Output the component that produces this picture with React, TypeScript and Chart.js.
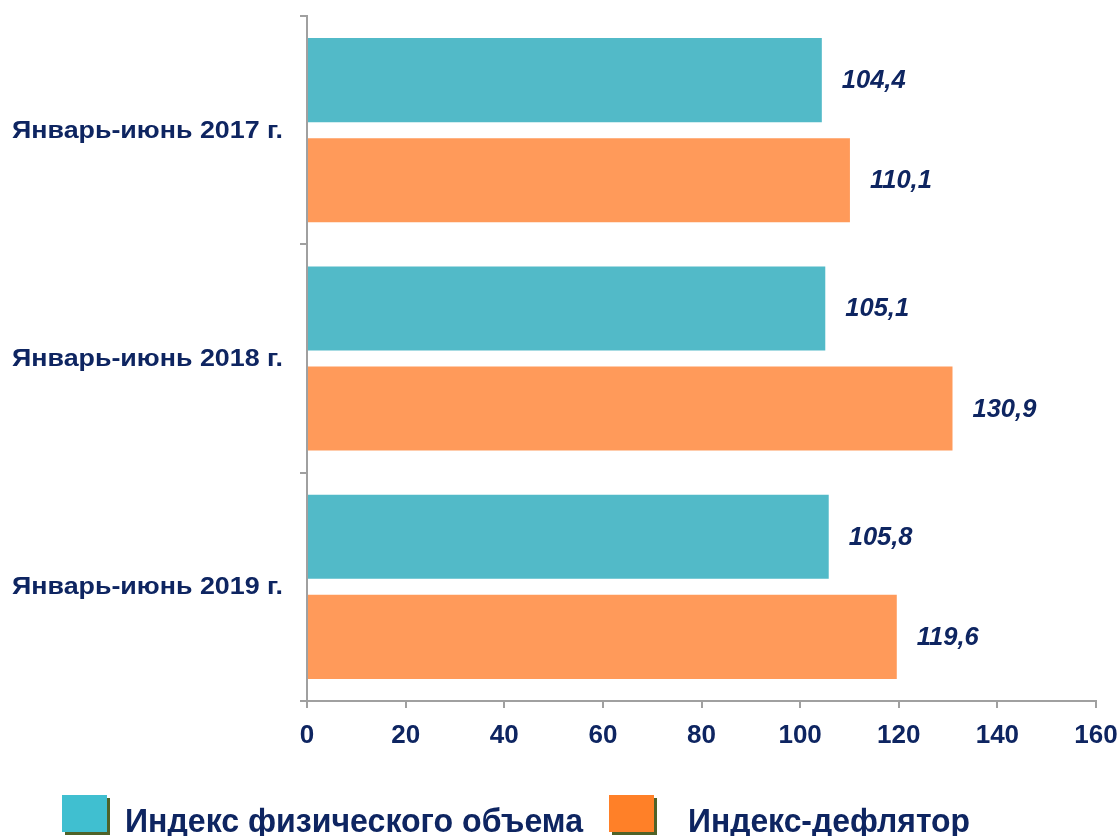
import React, { useEffect, useRef } from "react";
import { Chart, registerables } from "chart.js";

Chart.register(...registerables);

const categories = ["Январь-июнь 2017 г.", "Январь-июнь 2018 г.", "Январь-июнь 2019 г."];
const physicalVolume = [104.4, 105.1, 105.8];
const deflator = [110.1, 130.9, 119.6];
const seriesNames = ["Индекс физического объема", "Индекс-дефлятор"];
const xTicks = [0, 20, 40, 60, 80, 100, 120, 140, 160];

const NAVY = "#0E2561";
const AXIS = "#A0A0A0";
const FONT = "'Liberation Sans', Arial, sans-serif";

function measure(text: string, font: string): number {
  const c = document.createElement("canvas").getContext("2d");
  if (!c) return 1;
  c.font = font;
  return c.measureText(text).width;
}

const valueLabels = {
  id: "valueLabels",
  afterDatasetsDraw(chart: any) {
    const ctx = chart.ctx;
    ctx.save();
    ctx.font = `italic bold 25.5px ${FONT}`;
    ctx.fillStyle = NAVY;
    ctx.textAlign = "left";
    ctx.textBaseline = "middle";
    chart.data.datasets.forEach((ds: any, i: number) => {
      const meta = chart.getDatasetMeta(i);
      meta.data.forEach((el: any, j: number) => {
        const v = ds.data[j] as number;
        ctx.fillText(v.toFixed(1).replace(".", ","), el.x + 20, el.y + 1);
      });
    });
    ctx.restore();
  },
};

// Category labels drawn horizontally stretched like the reference
const categoryLabels = {
  id: "categoryLabels",
  afterDraw(chart: any) {
    const ctx = chart.ctx;
    const y = chart.scales.y;
    ctx.save();
    ctx.font = `bold 24px ${FONT}`;
    ctx.fillStyle = NAVY;
    ctx.textAlign = "right";
    ctx.textBaseline = "middle";
    const right = 283;
    categories.forEach((c, i) => {
      const w = ctx.measureText(c).width;
      const k = 271 / w;
      const py = y.getPixelForValue(i);
      ctx.save();
      ctx.translate(right, py + 1);
      ctx.scale(k, 1);
      ctx.fillText(c, 0, 0);
      ctx.restore();
    });
    ctx.restore();
  },
};

export default function App() {
  const ref = useRef<HTMLCanvasElement>(null);

  useEffect(() => {
    document.body.style.margin = "0";
    const chart = new Chart(ref.current as HTMLCanvasElement, {
      type: "bar",
      data: {
        labels: categories,
        datasets: [
          {
            label: seriesNames[0],
            data: physicalVolume,
            backgroundColor: "#52BAC8",
            barPercentage: 0.84,
            categoryPercentage: 0.877,
          },
          {
            label: seriesNames[1],
            data: deflator,
            backgroundColor: "#FF9A5A",
            barPercentage: 0.84,
            categoryPercentage: 0.877,
          },
        ],
      },
      options: {
        indexAxis: "y",
        responsive: false,
        animation: false,
        layout: { padding: { top: 16, right: 24, bottom: 75, left: 0 } },
        plugins: { legend: { display: false }, tooltip: { enabled: false } },
        scales: {
          x: {
            min: 0,
            max: 160,
            afterFit: (s: any) => {
              s.height = 60;
              s.paddingLeft = 0;
              s.paddingRight = 0;
            },
            afterBuildTicks: (s: any) => {
              s.ticks = xTicks.map((v) => ({ value: v }));
            },
            border: { color: AXIS, width: 2 },
            grid: { drawOnChartArea: false, tickLength: 7, color: AXIS, lineWidth: 2 },
            ticks: {
              color: NAVY,
              font: { family: FONT, size: 26, weight: "bold" },
              padding: 12,
              maxRotation: 0,
            },
          },
          y: {
            afterFit: (s: any) => {
              s.width = 307;
              s.paddingTop = 0;
              s.paddingBottom = 0;
            },
            border: { color: AXIS, width: 2 },
            grid: { drawOnChartArea: false, offset: true, tickLength: 7, color: AXIS, lineWidth: 2 },
            ticks: { display: false },
          },
        },
      },
      plugins: [valueLabels, categoryLabels],
    } as any);
    return () => chart.destroy();
  }, []);

  const legendFont = `bold 33px ${FONT}`;
  const w1 = measure(seriesNames[0], legendFont);
  const w2 = measure(seriesNames[1], legendFont);
  const textStyle = (left: number, target: number, w: number): React.CSSProperties => ({
    position: "absolute",
    left,
    top: 804,
    font: legendFont,
    lineHeight: "33px",
    color: NAVY,
    whiteSpace: "nowrap",
    transform: `scaleX(${target / w})`,
    transformOrigin: "left top",
  });
  const box = (left: number, color: string): React.CSSProperties => ({
    position: "absolute",
    left,
    top: 795,
    width: 45,
    height: 37,
    background: color,
    boxShadow: "3px 3px 0 #4F6228",
  });

  return (
    <div style={{ position: "relative", width: 1120, height: 836, overflow: "hidden", background: "#fff" }}>
      <canvas ref={ref} width={1120} height={836} style={{ display: "block" }} />
      <div style={box(62, "#40BFD0")} />
      <div style={textStyle(125, 458, w1)}>{seriesNames[0]}</div>
      <div style={box(609, "#FF8028")} />
      <div style={textStyle(688, 282, w2)}>{seriesNames[1]}</div>
    </div>
  );
}
